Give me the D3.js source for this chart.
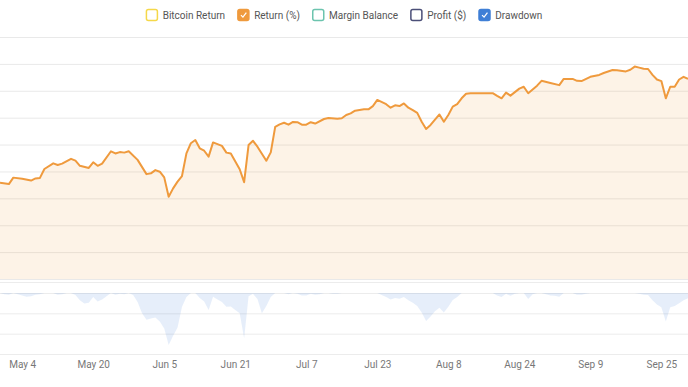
<!DOCTYPE html>
<html>
<head>
<meta charset="utf-8">
<script src="https://cdn.jsdelivr.net/npm/d3@7"></script>
<style>
  body { margin: 0; background: #fff; }
  svg { display: block; font-family: Roboto, "Liberation Sans", sans-serif; }
</style>
</head>
<body>
<div class="chart"></div>
<script>
// legend entries
var legendNames = ["Bitcoin Return", "Return (%)", "Margin Balance", "Profit ($)", "Drawdown"];
var legendColors = ["#f5d84a", "#ef9a3d", "#6cc4ae", "#4b4f78", "#3f7fd6"];
var legendChecked = [false, true, false, false, true];

// Return (%) series
var returnDates = [
  "2021-04-29","2021-05-01","2021-05-02","2021-05-04","2021-05-06","2021-05-07","2021-05-08","2021-05-09",
  "2021-05-11","2021-05-12","2021-05-13","2021-05-15","2021-05-16","2021-05-17","2021-05-19","2021-05-20",
  "2021-05-21","2021-05-22","2021-05-24","2021-05-25","2021-05-26","2021-05-27","2021-05-28","2021-05-30",
  "2021-06-01","2021-06-02","2021-06-03","2021-06-04","2021-06-05","2021-06-06","2021-06-07","2021-06-08",
  "2021-06-09","2021-06-10","2021-06-11","2021-06-12","2021-06-13","2021-06-14","2021-06-15","2021-06-16",
  "2021-06-18","2021-06-19","2021-06-20","2021-06-22","2021-06-23","2021-06-24","2021-06-25","2021-06-26",
  "2021-06-28","2021-06-29","2021-06-30","2021-07-01","2021-07-02","2021-07-03","2021-07-04","2021-07-05",
  "2021-07-06","2021-07-07","2021-07-08","2021-07-09","2021-07-11","2021-07-12","2021-07-14","2021-07-15",
  "2021-07-16","2021-07-17","2021-07-18","2021-07-20","2021-07-21","2021-07-22","2021-07-23","2021-07-25",
  "2021-07-26","2021-07-27","2021-07-28","2021-07-29","2021-07-30","2021-07-31","2021-08-01","2021-08-02",
  "2021-08-03","2021-08-04","2021-08-06","2021-08-07","2021-08-08","2021-08-09","2021-08-10","2021-08-11",
  "2021-08-12","2021-08-13","2021-08-18","2021-08-19","2021-08-20","2021-08-21","2021-08-22","2021-08-24",
  "2021-08-25","2021-08-26","2021-08-28","2021-08-29","2021-08-31","2021-09-02","2021-09-03","2021-09-05",
  "2021-09-06","2021-09-07","2021-09-09","2021-09-11","2021-09-12","2021-09-14","2021-09-15","2021-09-17",
  "2021-09-18","2021-09-19","2021-09-20","2021-09-21","2021-09-22","2021-09-23","2021-09-24","2021-09-25",
  "2021-09-26","2021-09-27","2021-09-28","2021-09-29","2021-09-30","2021-10-01"
];
var returnValues = [
  35.8, 35.3, 37.7, 37.3, 36.6, 37.4, 37.6, 40.9,
  43.0, 42.4, 42.9, 44.7, 44.0, 42.1, 41.3, 43.4,
  42.1, 42.9, 47.5, 46.7, 47.2, 47.0, 47.5, 44.3,
  39.0, 39.3, 40.5, 39.9, 37.8, 30.6, 33.7, 36.2,
  38.3, 46.7, 50.5, 51.7, 48.6, 47.7, 45.5, 50.8,
  49.5, 47.0, 46.7, 40.8, 36.0, 49.8, 51.4, 49.2,
  44.0, 47.1, 56.6, 57.5, 58.1, 57.4, 58.4, 58.3,
  57.4, 57.4, 58.3, 57.8, 59.5, 59.9, 59.6, 59.8,
  61.0, 61.6, 62.6, 63.1, 63.1, 64.3, 66.6, 65.0,
  63.7, 64.6, 64.3, 65.3, 63.7, 62.8, 61.8, 58.5,
  55.8, 57.3, 61.2, 58.5, 61.0, 64.1, 65.0, 67.2,
  68.9, 69.1, 69.1, 68.1, 67.2, 69.3, 68.2, 70.8,
  71.5, 69.1, 71.9, 73.7, 72.9, 72.1, 74.4, 74.4,
  73.7, 73.6, 75.2, 75.9, 76.6, 77.7, 77.6, 77.2,
  77.8, 79.0, 78.6, 78.2, 78.1, 75.9, 74.2, 73.6,
  67.2, 71.5, 71.5, 74.2, 75.2, 74.4
];

// Drawdown (%), one value per day from 2021-04-29
var drawdownStart = "2021-04-29";
var drawdownValues = [
  0, -0.3, -0.4, 0, -0.3, -0.6, -0.9, -0.8, -0.4, -0.3,
  0, 0, 0, -0.4, -0.3, 0, 0, -0.5, -1.8, -2.6,
  -2.4, -1.0, -2.1, -1.6, -0.8, 0, -0.4, -0.2, -0.3, 0,
  -0.5, -2.2, -5.0, -6.6, -6.3, -6.0, -7.0, -8.7, -12.8, -10.5,
  -8.5, -3.4, -1.0, 0, 0, -1.2, -2.1, -4.2, -0.9, -1.6,
  -2.2, -3.4, -3.3, -4.2, -5.0, -11.1, -0.8, -0.2, -1.5, -5.0,
  -3.2, -1.0, 0, 0, 0, -0.3, 0, -0.2, -0.6, -0.6,
  -0.2, -0.4, -0.3, 0, 0, -0.2, -0.2, 0, 0, 0,
  0, 0, 0, 0, 0, 0, -0.5, -1.0, -1.6, -1.2,
  -1.4, -1.0, -1.8, -2.4, -3.2, -4.8, -6.9, -5.8, -4.5, -3.6,
  -4.8, -3.4, -1.7, -1.0, 0, 0, 0, 0, 0, 0,
  0, 0, -0.6, -1.0, -0.2, -0.7, -0.2, 0, 0, -1.5,
  -0.3, 0, 0, -0.3, -0.6, -0.7, -0.9, 0, 0, 0,
  -0.4, -0.4, -0.2, 0, 0, 0, 0, 0, 0, 0,
  0, 0, 0, 0, -0.2, -0.4, -0.5, -1.8, -2.8, -3.5,
  -7.0, -3.5, -3.2, -2.5, -1.8, -1.3
];

// x axis ticks
var tickDates = ["2021-05-04","2021-05-20","2021-06-05","2021-06-21","2021-07-07",
                 "2021-07-23","2021-08-08","2021-08-24","2021-09-09","2021-09-25"];
var returnTicks = [0, 10, 20, 30, 40, 50, 60, 70, 80, 90];
var drawdownTicks = [-15, -10, -5, 0];

var W = 688, H = 387;
var parse = d3.timeParse("%Y-%m-%d");

var svg = d3.select(".chart").append("svg")
    .attr("width", W)
    .attr("height", H);

// scales
var x = d3.scaleTime()
    .domain([parse("2021-04-29"), parse("2021-10-01")])
    .range([0, W]);

var yRet = d3.scaleLinear()
    .domain([0, 90])
    .range([279, 37]);

var yDd = d3.scaleLinear()
    .domain([-15, 0])
    .range([354, 293]);

var retData = returnDates.map(function(d, i){
    return { date: parse(d), value: returnValues[i] };
});
var ddStart = parse(drawdownStart);
var ddData = drawdownValues.map(function(v, i){
    return { date: d3.timeDay.offset(ddStart, i), value: v };
});

// gridlines
var grid = svg.append("g");
grid.selectAll("line.ret")
    .data(returnTicks)
    .enter().append("line")
    .attr("class", "ret")
    .attr("x1", 0).attr("x2", W)
    .attr("y1", function(d){ return yRet(d) + 0.5; })
    .attr("y2", function(d){ return yRet(d) + 0.5; })
    .attr("stroke", "#e9e9e9");

grid.selectAll("line.dd")
    .data(drawdownTicks)
    .enter().append("line")
    .attr("class", "dd")
    .attr("x1", 0).attr("x2", W)
    .attr("y1", function(d){ return yDd(d) + 0.5; })
    .attr("y2", function(d){ return yDd(d) + 0.5; })
    .attr("stroke", "#ececec");

// panel divider
grid.append("line")
    .attr("x1", 0).attr("x2", W)
    .attr("y1", 282.5).attr("y2", 282.5)
    .attr("stroke", "#ececec");

// return area + line
var retArea = d3.area()
    .x(function(d){ return x(d.date); })
    .y0(yRet(0))
    .y1(function(d){ return yRet(d.value); });

var retLine = d3.line()
    .x(function(d){ return x(d.date); })
    .y(function(d){ return yRet(d.value); });

svg.append("path")
    .datum(retData)
    .attr("d", retArea)
    .attr("fill", "#ef9a3d")
    .attr("fill-opacity", 0.12);

svg.append("path")
    .datum(retData)
    .attr("d", retLine)
    .attr("fill", "none")
    .attr("stroke", "#ef9a3d")
    .attr("stroke-width", 2)
    .attr("stroke-linejoin", "round");

// drawdown area
var ddArea = d3.area()
    .x(function(d){ return x(d.date); })
    .y0(yDd(0))
    .y1(function(d){ return yDd(d.value); });

svg.append("path")
    .datum(ddData)
    .attr("d", ddArea)
    .attr("fill", "#3f7fd6")
    .attr("fill-opacity", 0.13);

// x axis
var xAxis = d3.axisBottom(x)
    .tickValues(tickDates.map(parse))
    .tickFormat(d3.timeFormat("%b %-d"))
    .tickSize(0)
    .tickPadding(7);

var xg = svg.append("g")
    .attr("transform", "translate(0,354)")
    .call(xAxis);
xg.select(".domain").remove();
xg.selectAll("text")
    .attr("fill", "#777")
    .style("font-size", "10px")
    .style("font-family", "Roboto, sans-serif");

// legend
var legend = svg.append("g");
var items = legend.selectAll("g.item")
    .data(legendNames)
    .enter().append("g")
    .attr("class", "item");

items.append("rect")
    .attr("x", 0.75).attr("y", 9.5)
    .attr("width", 11).attr("height", 11)
    .attr("rx", 2)
    .attr("fill", function(d, i){ return legendChecked[i] ? legendColors[i] : "#fff"; })
    .attr("stroke", function(d, i){ return legendColors[i]; })
    .attr("stroke-width", 1.5);

items.filter(function(d, i){ return legendChecked[i]; })
    .append("path")
    .attr("d", "M3.8,15.2 L5.8,17.2 L9.2,12.6")
    .attr("fill", "none")
    .attr("stroke", "#fff")
    .attr("stroke-width", 1.2);

items.append("text")
    .text(function(d){ return d; })
    .attr("x", 17)
    .attr("y", 18.5)
    .attr("fill", "#555")
    .style("font-size", "10px");

// lay out legend items centred
var offsets = [];
var total = 0;
items.each(function(d, i){
    var w = 17 + d3.select(this).select("text").node().getComputedTextLength();
    offsets.push(total);
    total += w + (i < legendNames.length - 1 ? 12 : 0);
});
var start = 344 - total / 2;
items.attr("transform", function(d, i){ return "translate(" + (start + offsets[i]) + ",0)"; });
</script>
</body>
</html>
